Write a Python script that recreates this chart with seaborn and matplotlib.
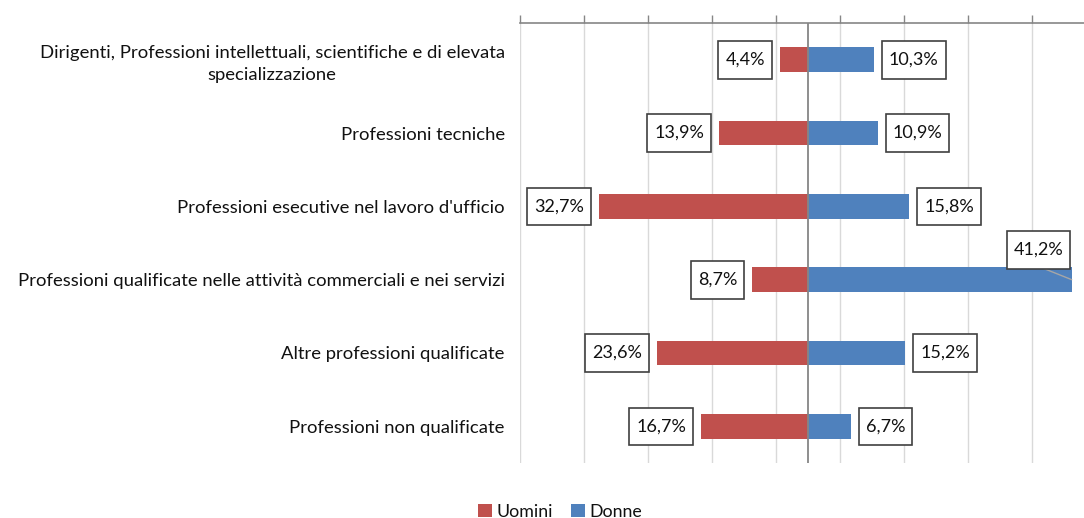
import matplotlib
matplotlib.use("Agg")
import matplotlib.pyplot as plt
import seaborn as sns
import pandas as pd
from matplotlib.patches import Patch
from matplotlib.path import Path

categories = [
    "Dirigenti, Professioni intellettuali, scientifiche e di elevata\nspecializzazione",
    "Professioni tecniche",
    "Professioni esecutive nel lavoro d'ufficio",
    "Professioni qualificate nelle attività commerciali e nei servizi",
    "Altre professioni qualificate",
    "Professioni non qualificate",
]
uomini = [4.4, 13.9, 32.7, 8.7, 23.6, 16.7]
donne = [10.3, 10.9, 15.8, 41.2, 15.2, 6.7]
series_names = ["Uomini", "Donne"]
colors = {"Uomini": "#C0504D", "Donne": "#4F81BD"}

def fmt(v):
    return f"{v:.1f}%".replace(".", ",")

df = pd.concat([
    pd.DataFrame({"cat": categories, "serie": "Uomini", "val": [-v for v in uomini]}),
    pd.DataFrame({"cat": categories, "serie": "Donne", "val": donne}),
], ignore_index=True)

sns.set_theme(style="white")
plt.rcParams["font.family"] = ["Lato", "DejaVu Sans"]

fig = plt.figure(figsize=(10.84, 5.18), dpi=100)
ax = fig.add_axes([520 / 1084, 1 - 463 / 518, 1 - 520 / 1084, (463 - 23) / 518])

sns.barplot(data=df, y="cat", x="val", hue="serie", order=categories,
            hue_order=series_names, palette=colors, dodge=False, width=0.34,
            orient="h", ax=ax, legend=False, linewidth=0, saturation=1)

ticks = [-45, -35, -25, -15, -5, 5, 15, 25, 35, 45]
ax.set_xticks(ticks)
ax.set_xlim(-45, (1084 - 808) / 6.4)
ax.set_ylim(5.5, -0.5)
ax.xaxis.tick_top()
ax.tick_params(axis="x", which="both", top=True, bottom=False, labeltop=False,
               labelbottom=False, length=6, width=1, color="#868686", direction="out")
for t in ticks:
    ax.axvline(t, color="#D9D9D9", lw=1, zorder=0)
ax.axvline(0, color="#868686", lw=1.3, zorder=3)
for s in ["left", "right", "bottom"]:
    ax.spines[s].set_visible(False)
ax.spines["top"].set_color("#868686")
ax.spines["top"].set_linewidth(1.2)
ax.set_xlabel("")
ax.set_ylabel("")
ax.tick_params(axis="y", length=0, pad=11, labelsize=13.3, labelcolor="#111111")
for lab in ax.get_yticklabels():
    lab.set_multialignment("center")
    lab.set_linespacing(1.45)


def label_box(x0, y0, width, height, mutation_size):
    px = 0.38 * mutation_size
    py = 0.6 * mutation_size
    x0, y0 = x0 - px, y0 - py
    x1, y1 = x0 + width + 2 * px, y0 + height + 2 * py
    return Path([(x0, y0), (x1, y0), (x1, y1), (x0, y1), (x0, y0)], closed=True)


fs = 13
bbox = dict(boxstyle=label_box, fc="white", ec="#404040", lw=1.2)
for i, v in enumerate(uomini):
    ax.annotate(fmt(v), xy=(-v, i), xytext=(-10.8, 0), textcoords="offset points",
                ha="right", va="center", fontsize=fs, bbox=bbox, zorder=5, color="#111111")
for i, v in enumerate(donne):
    if v > 35:
        # leader line from box bottom centre to bar end
        ax.annotate("", xy=(v, i), xytext=(-24.0, 9.6), textcoords="offset points",
                    zorder=4, annotation_clip=False,
                    arrowprops=dict(arrowstyle="-", color="#A6A6A6", lw=1, shrinkA=0,
                                    shrinkB=0))
        ax.annotate(fmt(v), xy=(v, i), xytext=(-24.0, 21.5), textcoords="offset points",
                    ha="center", va="center", fontsize=fs, bbox=bbox, zorder=5, color="#111111")
    else:
        ax.annotate(fmt(v), xy=(v, i), xytext=(10.8, 0), textcoords="offset points",
                    ha="left", va="center", fontsize=fs, bbox=bbox, zorder=5, color="#111111")

handles = [Patch(facecolor=colors[n], edgecolor="none", label=n) for n in series_names]
fig.legend(handles=handles, loc="lower center", bbox_to_anchor=(0.517, -0.035), ncol=2,
           frameon=False, fontsize=12.8, handlelength=0.75, handleheight=0.75,
           handletextpad=0.3, columnspacing=1.0, labelcolor="#111111")

fig.savefig("out.png", dpi=100)
